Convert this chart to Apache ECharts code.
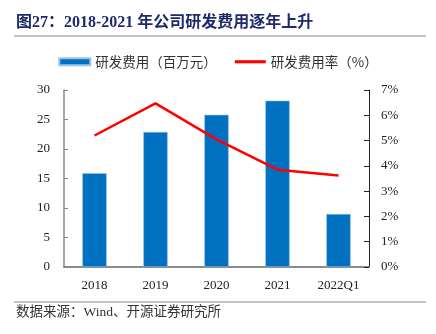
<!DOCTYPE html>
<html><head><meta charset="utf-8">
<script src="https://cdn.jsdelivr.net/npm/echarts@6/dist/echarts.min.js"></script>
<style>html,body{margin:0;padding:0;background:#fff}#c{width:436px;height:334px}</style>
</head><body><div id="c"></div>
<script>
var categories = ['2018','2019','2020','2021','2022Q1'];
var rdExpense = [15.9, 22.9, 25.8, 28.2, 9.0];
var rdRate = [5.2, 6.47, 5.05, 3.85, 3.62];
var leftTicks = [0,5,10,15,20,25,30];
var rightTicks = [0,1,2,3,4,5,6,7];
var serif = '"Liberation Serif","Noto Sans CJK SC",serif';
var chart = echarts.init(document.getElementById('c'));
chart.setOption({
  animation:false,
  grid:{left:64,right:67,top:90,bottom:67},
  legend:{top:50,left:'center',itemGap:18,itemWidth:31,itemHeight:7,
    textStyle:{fontFamily:'"Noto Sans CJK SC"',fontSize:13.5,color:'#333'},
    data:[{name:'研发费用（百万元）',icon:'rect'},
          {name:'研发费用率（%）',icon:'path://M0,0L40,0L40,4L0,4Z',itemStyle:{color:'#ff0000'}}]},
  graphic:[
    {type:'text',left:16,top:15,style:{text:'图27：2018-2021 年公司研发费用逐年上升',font:'bold 16px "Liberation Serif","Noto Sans CJK SC"',fill:'#1f2a6b'}},
    {type:'line',shape:{x1:14,y1:36,x2:426,y2:36},style:{stroke:'#888',lineWidth:1}},
    {type:'line',shape:{x1:14,y1:302,x2:426,y2:302},style:{stroke:'#888',lineWidth:1}},
    {type:'text',left:16,top:306,style:{text:'数据来源：Wind、开源证券研究所',font:'13.5px "Liberation Serif","Noto Sans CJK SC"',fill:'#333'}}
  ],
  xAxis:{type:'category',data:categories,
    axisLine:{lineStyle:{color:'#666',width:1.5}},
    axisTick:{inside:true,length:4,lineStyle:{color:'#666'}},
    axisLabel:{fontFamily:serif,fontSize:13,color:'#222',margin:12}},
  yAxis:[
    {type:'value',min:0,max:30,interval:5,splitLine:{show:false},
     axisLine:{show:true,lineStyle:{color:'#888',width:1.5}},
     axisTick:{show:true,inside:true,length:4,lineStyle:{color:'#888'}},
     axisLabel:{fontFamily:serif,fontSize:13,color:'#222',margin:14,
       formatter:function(v){return leftTicks.indexOf(v)>=0?String(v):'';}}},
    {type:'value',min:0,max:7,interval:1,splitLine:{show:false},
     axisLine:{show:true,lineStyle:{color:'#222',width:1}},
     axisTick:{show:true,inside:true,length:5,lineStyle:{color:'#222'}},
     axisLabel:{fontFamily:serif,fontSize:13,color:'#222',margin:12,
       formatter:function(v){return rightTicks.indexOf(v)>=0?v+'%':'';}}}
  ],
  series:[
    {name:'研发费用（百万元）',type:'bar',data:rdExpense,barWidth:'40%',
     itemStyle:{color:'#0070c0',borderColor:'#9cc3e6',borderWidth:0.6}},
    {name:'研发费用率（%）',type:'line',yAxisIndex:1,data:rdRate,symbol:'none',
     lineStyle:{color:'#ff0000',width:2.5},itemStyle:{color:'#ff0000'}}
  ]
});
</script></body></html>
